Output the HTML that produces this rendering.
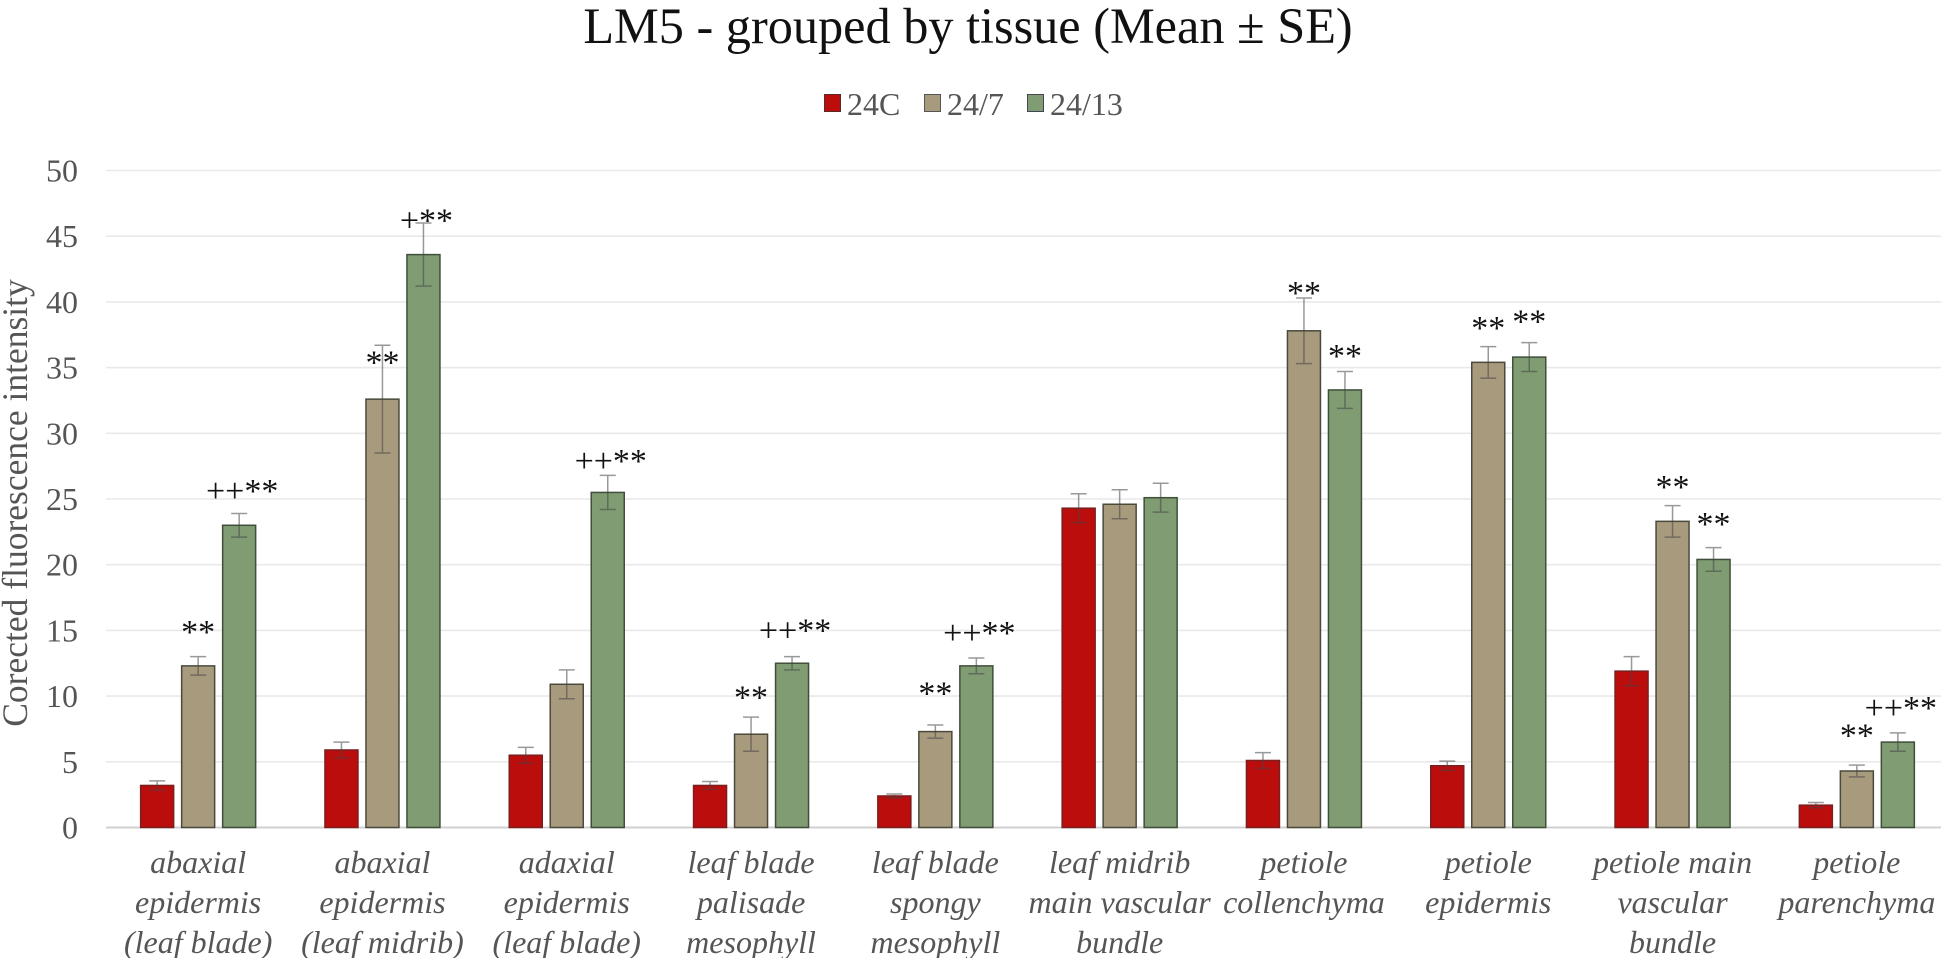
<!DOCTYPE html>
<html>
<head>
<meta charset="utf-8">
<title>LM5 - grouped by tissue</title>
<style>
html,body{margin:0;padding:0;background:#fff;}
svg{display:block;font-family:"Liberation Serif",serif;}
</style>
</head>
<body>
<svg id="chart" width="1949" height="958" viewBox="0 0 1949 958" xmlns="http://www.w3.org/2000/svg">
  <text x="968" y="43" text-anchor="middle" font-size="50.3" fill="#111">LM5 - grouped by tissue (Mean ± SE)</text>
  <text transform="translate(27,503) rotate(-90)" text-anchor="middle" font-size="35.5" fill="#555">Corected fluorescence intensity</text>
  <g>
    <g>
      <rect x="824.5" y="94.5" width="16" height="17" fill="#bc0d0d" stroke="#5a2a2a"/>
      <text x="847" y="115" font-size="32" fill="#555">24C</text>
    </g>
    <g>
      <rect x="924.5" y="94.5" width="16" height="17" fill="#a89a7c" stroke="#555"/>
      <text x="947" y="115" font-size="32" fill="#555">24/7</text>
    </g>
    <g>
      <rect x="1027.5" y="94.5" width="16" height="17" fill="#7f9c72" stroke="#445"/>
      <text x="1050" y="115" font-size="32" fill="#555">24/13</text>
    </g>
  </g>
  <g id="plot"></g>
</svg>
<script>
var categories = [
  ["abaxial","epidermis","(leaf blade)"],
  ["abaxial","epidermis","(leaf midrib)"],
  ["adaxial","epidermis","(leaf blade)"],
  ["leaf blade","palisade","mesophyll"],
  ["leaf blade","spongy","mesophyll"],
  ["leaf midrib","main vascular","bundle"],
  ["petiole","collenchyma"],
  ["petiole","epidermis"],
  ["petiole main","vascular","bundle"],
  ["petiole","parenchyma"]
];
var yTicks = [0,5,10,15,20,25,30,35,40,45,50];
var seriesNames = ["24C","24/7","24/13"];
var values24C = [3.2,5.9,5.5,3.2,2.4,24.3,5.1,4.7,11.9,1.7];
var values247 = [12.3,32.6,10.9,7.1,7.3,24.6,37.8,35.4,23.3,4.3];
var values2413 = [23.0,43.6,25.5,12.5,12.3,25.1,33.3,35.8,20.4,6.5];
var errors24C = [0.35,0.6,0.6,0.3,0.15,1.1,0.6,0.35,1.1,0.2];
var errors247 = [0.7,4.1,1.1,1.3,0.5,1.1,2.5,1.2,1.2,0.45];
var errors2413 = [0.9,2.4,1.3,0.5,0.6,1.1,1.4,1.1,0.9,0.7];
var marks247 = ["**","**","","**","**","","**","**","**","**"];
var marks2413 = ["++**","+**","++**","++**","++**","","**","**","**","++**"];
var markLevels247 = [15.2,35.7,null,10.2,10.5,null,41,38.3,26.2,7.3];
var markLevels2413 = [25.9,46.5,28.2,15.3,15.1,null,36.2,38.8,23.4,9.4];

var NS = "http://www.w3.org/2000/svg";
var plot = document.getElementById("plot");
var left = 106, right = 1949, y0 = 827.5, y50 = 170.5;
var band = (right - left) / categories.length;
var barW = 33, barStep = 41;
var fills = ["#bc0d0d","#a89a7c","#7f9c72"];
var strokes = ["#7a1f1f","#4a4a3c","#3f4f3a"];
function yScale(v){ return y0 + (v / 50) * (y50 - y0); }
function xCenter(i){ return left + band * (i + 0.5); }
function xBar(i, s){ return xCenter(i) + (s - 1) * barStep; }
function make(tag, attrs, parent){
  var el = document.createElementNS(NS, tag);
  for (var k in attrs) el.setAttribute(k, attrs[k]);
  (parent || plot).appendChild(el);
  return el;
}
yTicks.forEach(function(t){
  var gy = yScale(t);
  var line = make("line", {x1:left, x2:right - 8, y1:gy, y2:gy, stroke: t === 0 ? "#d0d0d0" : "#e9e9e9", "stroke-width": t === 0 ? 2 : 1.6});
  
  
  var lab = make("text", {x:78, y:gy + 11, "text-anchor":"end", "font-size":32, fill:"#555"});
  
  
  lab.textContent = t;
});
var allValues = [values24C, values247, values2413];
var allErrors = [errors24C, errors247, errors2413];
categories.forEach(function(lines, i){
  allValues.forEach(function(vals, s){
    var cx = xBar(i, s), top = yScale(vals[i]);
    var bar = make("rect", {x:cx - barW / 2, y:top, width:barW, height:y0 - top, fill:fills[s], stroke:strokes[s], "stroke-width":1.5});
    
    
    var e = allErrors[s][i], hi = yScale(vals[i] + e), lo = yScale(vals[i] - e);
    var eb = make("path", {d:"M" + cx + " " + lo + "V" + hi + "M" + (cx - 8) + " " + lo + "H" + (cx + 8) + "M" + (cx - 8) + " " + hi + "H" + (cx + 8), fill:"none", stroke: "rgba(70,70,70,0.55)", "stroke-width":1.5});
    
    
  });
  [[marks247, markLevels247, 1], [marks2413, markLevels2413, 2]].forEach(function(m){
    var txt = m[0][i];
    if (!txt) return;
    var plusShift = txt.charAt(0) === "+" ? 3 : 0;
    var mark = make("text", {x:xBar(i, m[2]) + plusShift, y:yScale(m[1][i]) + 15, "text-anchor":"middle", "font-size":34, fill:"#111"});
    
    
    mark.textContent = txt;
  });
  lines.forEach(function(ln, k){
    var cat = make("text", {x:xCenter(i), y:873 + k * 40, "text-anchor":"middle", "font-size":32, "font-style":"italic", fill:"#555"});
    
    
    cat.textContent = ln;
  });
});
</script>
</body>
</html>
